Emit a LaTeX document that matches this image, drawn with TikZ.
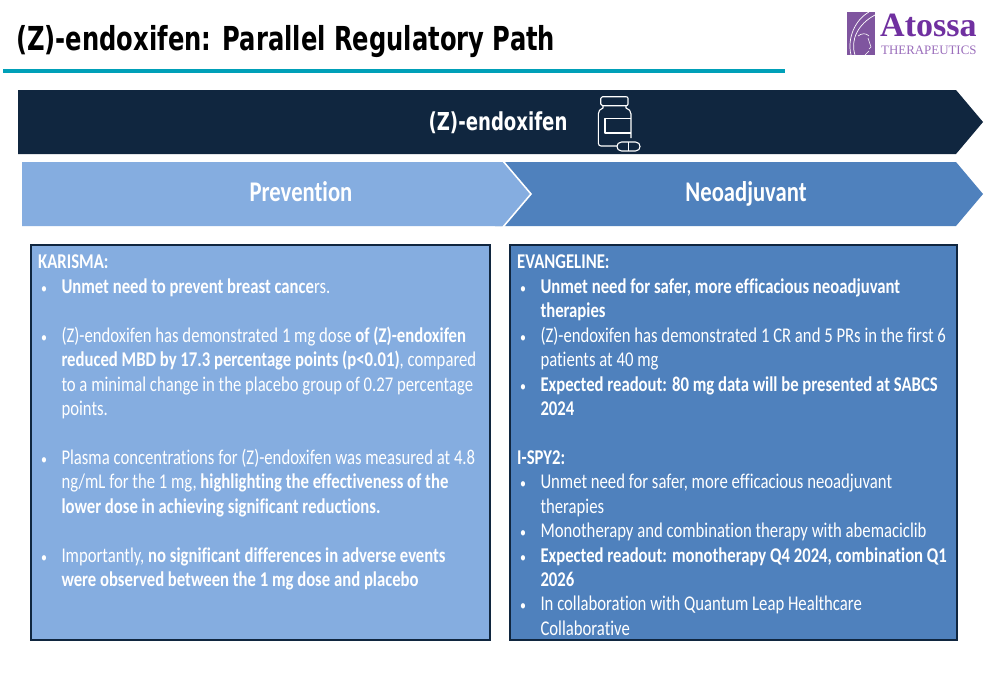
\documentclass[tikz,border=0pt]{standalone}
\usepackage{fontspec}
\setmainfont{Carlito}[FakeStretch=0.795,Ligatures=NoCommon]
\newfontfamily\titlefont{DejaVu Sans}[FakeStretch=0.734]
\newfontfamily\logofont{Liberation Serif}
\definecolor{navy}{HTML}{10263F}
\definecolor{lightblue}{HTML}{85ADE0}
\definecolor{midblue}{HTML}{4F81BD}
\definecolor{teal}{HTML}{00A0B8}
\definecolor{logopurple}{HTML}{7030A0}
\definecolor{logosquare}{HTML}{7F559F}
\newcommand{\bul}{\makebox[23.3pt][l]{\hspace{3pt}{\fontsize{15}{15}\selectfont •}}}
\newcommand{\cnt}{\hspace*{23.3pt}}
\tikzset{
  hdr/.style={text=white,anchor=base,font=\fontsize{28.5}{30}\selectfont\bfseries,inner sep=0pt},
  panel/.style={draw=navy,line width=1.6pt},
  body/.style={text=white,anchor=north west,align=left,inner sep=0pt,font=\fontsize{21}{24.42}\selectfont},
  icon/.style={draw=white,line width=1.1pt,line join=round}
}
\begin{document}
\begin{tikzpicture}[x=1pt,y=-1pt]
\useasboundingbox (0,0) rectangle (1000,685);
\fill[white] (0,0) rectangle (1000,685);
% title
\node[anchor=base west,inner sep=0pt,text=black,font=\titlefont\fontsize{33}{40}\selectfont\bfseries] (title) at (16,50) {(Z)-endoxifen: Parallel Regulatory Path};
\fill[teal] (3,69) rectangle (785,73);
% logo
\fill[logosquare] (847,12) rectangle (875,55);
\draw[white,line width=0.7pt] (851,55) .. controls (847,38) and (855,20) .. (869,12);
\draw[white,line width=0.7pt] (855,55) .. controls (850,40) and (858,24) .. (875,15);
\draw[white,line width=0.6pt] (858,36) .. controls (862,33) and (866,33) .. (869,36) (868,38) -- (871,47) -- (869,49) (869,51) -- (865,55);
\node[anchor=base west,inner sep=0pt,text=logopurple,font=\logofont\fontsize{34}{34}\selectfont\bfseries] (atossa) at (880,37) {Atossa};
\node[anchor=base west,inner sep=0pt,text=logopurple!70,font=\logofont\fontsize{12.9}{14}\selectfont] (thera) at (881,55) {THERAPEUTICS};
% banners
\fill[navy] (18,90) -- (956,90) -- (983,122) -- (956,154) -- (18,154) -- cycle;
\node[hdr,font=\titlefont\fontsize{24.7}{28}\selectfont\bfseries] (drug) at (498,130) {(Z)-endoxifen};
\fill[midblue] (495,162) -- (956,162) -- (983,194) -- (956,226) -- (495,226) -- cycle;
\fill[lightblue] (22,162) -- (503,162) -- (530,194) -- (503,226) -- (22,226) -- cycle;
\draw[white,line width=1.6pt] (503,161) -- (531,194) -- (503,227);
\node[hdr] (prev) at (301,201) {Prevention};
\node[hdr] (neo) at (746,201) {Neoadjuvant};
% bottle icon
\draw[icon] (602.5,96.7) -- (626,96.7) .. controls (627.5,96.7) and (628,97.5) .. (628,98.5) -- (628,104) .. controls (628,105) and (627.5,105.7) .. (626,105.7) -- (602.5,105.7) .. controls (601.2,105.7) and (600.7,105) .. (600.7,104) -- (600.7,98.5) .. controls (600.7,97.5) and (601.2,96.7) .. (602.5,96.7) -- cycle;
\draw[icon] (603,105.7) -- (603,108) .. controls (600,109) and (598.3,111) .. (598.3,114) -- (598.3,143) .. controls (598.3,145) and (599.5,146) .. (601,146) -- (617,146);
\draw[icon] (626,105.7) -- (626,108) .. controls (629,109) and (631,111) .. (631,114) -- (631,138);
\draw[icon] (631,118.5) -- (605,118.5) -- (605,133) -- (631,133);
\draw[icon] (621.5,142) -- (635.5,142) .. controls (641.5,142) and (641.5,151) .. (635.5,151) -- (621.5,151) .. controls (615.5,151) and (615.5,142) .. (621.5,142) -- cycle;
\draw[icon] (628.5,142) -- (628.5,151);
% panels
\draw[panel,fill=lightblue] (31,245) rectangle (490,640);
\draw[panel,fill=midblue] (510,245) rectangle (957,640);
\node[body] (left) at (38,255) {\textbf{KARISMA:}\\
\bul\textbf{Unmet need to prevent breast cance}rs.\\
\strut\\
\bul(Z)-endoxifen has demonstrated 1 mg dose \textbf{of (Z)-endoxifen}\\
\cnt\textbf{reduced MBD by 17.3 percentage points (p{\textless}0.01)}, compared\\
\cnt to a minimal change in the placebo group of 0.27 percentage\\
\cnt points.\\
\strut\\
\bul Plasma concentrations for (Z)-endoxifen was measured at 4.8\\
\cnt ng/mL for the 1 mg, \textbf{highlighting the effectiveness of the}\\
\cnt\textbf{lower dose in achieving significant reductions.}\\
\strut\\
\bul Importantly, \textbf{no significant differences in adverse events}\\
\cnt\textbf{were observed between the 1 mg dose and placebo}};
\node[body] (right) at (517,255) {\textbf{EVANGELINE:}\\
\bul\textbf{Unmet need for safer, more efficacious neoadjuvant}\\
\cnt\textbf{therapies}\\
\bul(Z)-endoxifen has demonstrated 1 CR and 5 PRs in the first 6\\
\cnt patients at 40 mg\\
\bul\textbf{Expected readout: 80 mg data will be presented at SABCS}\\
\cnt\textbf{2024}\\
\strut\\
\textbf{I-SPY2:}\\
\bul Unmet need for safer, more efficacious neoadjuvant\\
\cnt therapies\\
\bul Monotherapy and combination therapy with abemaciclib\\
\bul\textbf{Expected readout: monotherapy Q4 2024, combination Q1}\\
\cnt\textbf{2026}\\
\bul In collaboration with Quantum Leap Healthcare\\
\cnt Collaborative};
\end{tikzpicture}
\end{document}
